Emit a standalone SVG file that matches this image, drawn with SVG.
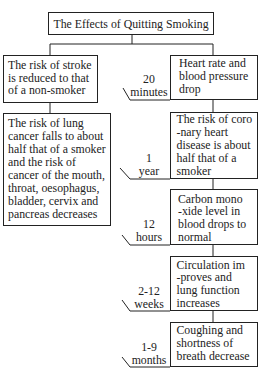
<svg xmlns="http://www.w3.org/2000/svg" width="264" height="374" viewBox="0 0 264 374">
<style>
.box{fill:#fff;stroke:#222;stroke-width:1}
.ln{fill:none;stroke:#222;stroke-width:1}
text{font-size:11.8px;fill:#222}
.c{text-anchor:middle}
</style>
<rect width="264" height="374" fill="#fff"/>
<g font-family="Liberation Serif, DejaVu Serif, serif">
<g id="connectors">
<path class="ln" d="M132,34V44M50,44H213M50,44V55M213,44V55M50,103V113M213,100V112M213,179V189M213,245V256M213,311V322"/>
<path class="ln" d="M123,88L130,100H170M120,168L130,179H170M122,235L130,245H170M122,300L130,311H170M122,357L130,367H170"/>
</g>
<g id="time-labels">
<text class="c" x="149" y="83">20</text><text class="c" x="149" y="95.5">minutes</text>
<text class="c" x="149" y="162">1</text><text class="c" x="149" y="175">year</text>
<text class="c" x="149" y="228">12</text><text class="c" x="149" y="241">hours</text>
<text class="c" x="149" y="294.5">2-12</text><text class="c" x="149" y="307.5">weeks</text>
<text class="c" x="149" y="350.5">1-9</text><text class="c" x="149" y="363.5">months</text>
</g>
<g id="title">
<rect class="box" x="48.5" y="12.5" width="165" height="22"/>
<text class="c" x="131" y="27.5">The Effects of Quitting Smoking</text>
</g>
<g id="stroke">
<rect class="box" x="3.5" y="55.5" width="94" height="47"/>
<text x="8" y="69">The risk of stroke</text>
<text x="8" y="81.5">is reduced to that</text>
<text x="8" y="94">of a non-smoker</text>
</g>
<g id="lung">
<rect class="box" x="3.5" y="113.5" width="107" height="112"/>
<text x="8" y="127">The risk of lung</text>
<text x="8" y="140">cancer falls to about</text>
<text x="8" y="153">half that of a smoker</text>
<text x="8" y="166">and the risk of</text>
<text x="8" y="179">cancer of the mouth,</text>
<text x="8" y="192">throat, oesophagus,</text>
<text x="8" y="205">bladder, cervix and</text>
<text x="8" y="218">pancreas decreases</text>
</g>
<g id="heart">
<rect class="box" x="170.5" y="55.5" width="87" height="44"/>
<text x="179" y="67">Heart rate and</text>
<text x="179" y="80">blood pressure</text>
<text x="179" y="93">drop</text>
</g>
<g id="coronary">
<rect class="box" x="170.5" y="112.5" width="87" height="66"/>
<text x="176.5" y="122.5">The risk of coro</text>
<text x="176.5" y="135.5">-nary heart</text>
<text x="176.5" y="148.5">disease is about</text>
<text x="176.5" y="161.5">half that of a</text>
<text x="176.5" y="174.5">smoker</text>
</g>
<g id="carbon">
<rect class="box" x="170.5" y="189.5" width="87" height="55"/>
<text x="178" y="202.5">Carbon mono</text>
<text x="178" y="215">-xide level in</text>
<text x="178" y="228">blood drops to</text>
<text x="178" y="240.5">normal</text>
</g>
<g id="circulation">
<rect class="box" x="170.5" y="256.5" width="87" height="54"/>
<text x="176.5" y="268.5">Circulation im</text>
<text x="176.5" y="281">-proves and</text>
<text x="176.5" y="294">lung function</text>
<text x="176.5" y="306.5">increases</text>
</g>
<g id="coughing">
<rect class="box" x="170.5" y="322.5" width="87" height="44"/>
<text x="176.5" y="334">Coughing and</text>
<text x="176.5" y="347">shortness of</text>
<text x="176.5" y="360">breath decrease</text>
</g>
</g>
</svg>
